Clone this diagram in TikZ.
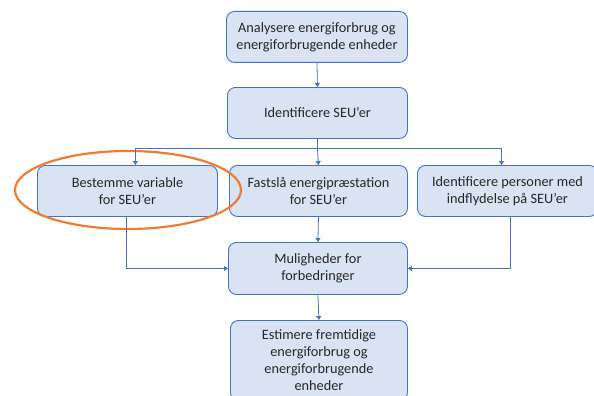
\documentclass[tikz,border=0pt]{standalone}
\usepackage{fontspec}
\setmainfont{Carlito}
\usetikzlibrary{arrows.meta,calc}
\definecolor{boxfill}{HTML}{DAE3F3}
\definecolor{boxline}{HTML}{4472C4}
\definecolor{ringcol}{HTML}{ED7D31}
\tikzset{
  stepbox/.style={draw=boxline, fill=boxfill, line width=0.9pt, rounded corners=8pt,
    anchor=north west, inner sep=0pt, align=center,
    font=\fontsize{14.3}{17}\selectfont, text=black!85},
  link/.style={draw=boxline, line width=0.8pt, -{Triangle[width=5pt,length=4pt]}},
  plainlink/.style={draw=boxline, line width=0.8pt}
}
\begin{document}
\begin{tikzpicture}[x=1pt,y=-1pt]
  \useasboundingbox (0,0) rectangle (594,396);
  \clip (0,0) rectangle (594,396);
  \node[stepbox, minimum width=181pt, minimum height=51pt] (ana) at (226,11)
    {Analysere energiforbrug og\\energiforbrugende enheder};
  \node[stepbox, minimum width=180pt, minimum height=51pt] (sev) at (227,87)
    {Identificere SEU’er};
  \node[stepbox, minimum width=180pt, minimum height=51pt] (best) at (37,165)
    {Bestemme variable\\for SEU’er};
  \node[stepbox, minimum width=178pt, minimum height=51pt] (fast) at (229,165)
    {Fastslå energipræstation\\for SEU’er};
  \node[stepbox, minimum width=180pt, minimum height=51pt] (pers) at (417,165)
    {Identificere personer med\\indflydelse på SEU’er};
  \node[stepbox, minimum width=179pt, minimum height=52pt] (mul) at (228,242)
    {Muligheder for\\forbedringer};
  \node[stepbox, minimum width=177pt, minimum height=80pt] (est) at (230,320)
    {Estimere fremtidige\\energiforbrug og\\energiforbrugende\\enheder};

  % highlight ring around the first of the three parallel steps
  \draw[ringcol, line width=2.2pt] (128,190) ellipse [x radius=113, y radius=39];

  % connectors
  \coordinate (bus) at (sev.south |- 0,148);
  \draw[link] (ana.south) -- (sev.north);
  \draw[plainlink] (sev.south) -- (bus);
  \draw[link] (bus) -| ([xshift=8pt]best.north);
  \draw[link] (bus) -- (fast.north);
  \draw[link] (bus) -| ([xshift=-6pt]pers.north);
  \draw[link] (fast.south) -- (mul.north);
  \draw[link] ([xshift=-1pt]best.south) |- (mul.west);
  \draw[link] ([xshift=3pt]pers.south) |- (mul.east);
  \draw[link] (mul.south) -- (est.north);
\end{tikzpicture}
\end{document}
